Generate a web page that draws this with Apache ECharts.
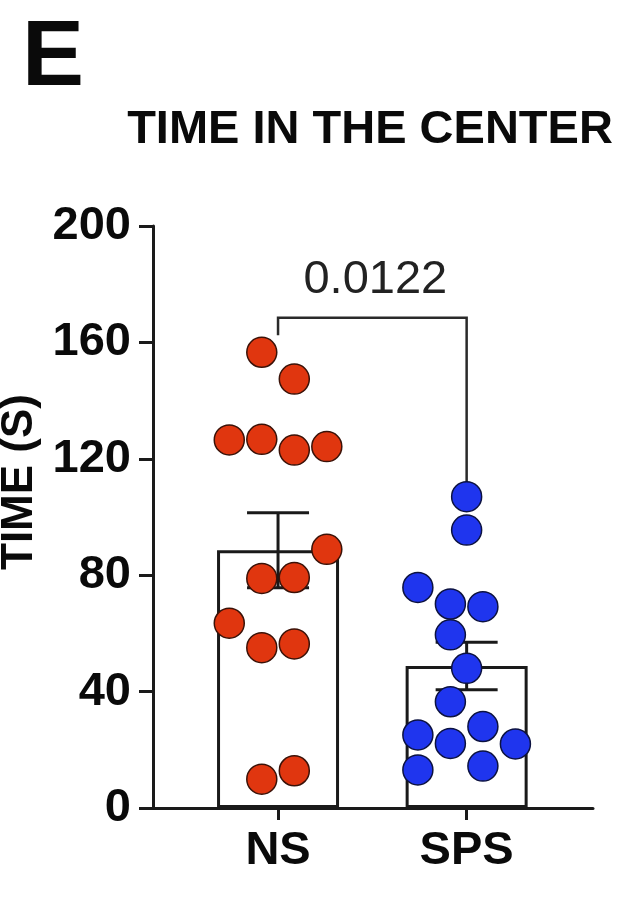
<!DOCTYPE html>
<html>
<head>
<meta charset="utf-8">
<script src="https://cdn.jsdelivr.net/npm/echarts@6/dist/echarts.min.js"></script>
<style>
html,body{margin:0;padding:0;background:#fff;}
#chart{width:625px;height:903px;}
</style>
</head>
<body>
<div id="chart"></div>
<script>
// ---- data ----
const categories = ['NS', 'SPS'];
const nsValues  = [156.6, 147.4, 126.5, 126.7, 123.0, 124.2, 88.9, 78.9, 79.2, 63.5, 55.1, 56.4, 9.9, 12.8];
const nsJitter  = [-0.5, 0.5, -1.5, -0.5, 0.5, 1.5, 1.5, -0.5, 0.5, -1.5, -0.5, 0.5, -0.5, 0.5];
const spsValues = [107.0, 95.5, 75.8, 70.1, 69.2, 59.5, 48.0, 36.5, 25.1, 28.0, 22.2, 22.0, 13.1, 14.4];
const spsJitter = [0, 0, -1.5, -0.5, 0.5, -0.5, 0, -0.5, -1.5, 0.5, -0.5, 1.5, -1.5, 0.5];
const means = [88.6, 48.8];
const sems  = [12.9, 8.2];
const pValue = '0.0122';
const bracketLevels = [162.5, 168.5, 111.5]; // left leg end, bracket top, right leg end
const yTicks = [0, 40, 80, 120, 160, 200];

// ---- chart ----
const JIT = 0.1724;
const FONT = '"Liberation Sans", Arial, sans-serif';
const chart = echarts.init(document.getElementById('chart'), null, {renderer: 'canvas'});

function pts(vals, jit, g) {
  return vals.map((v, i) => [g + jit[i] * JIT, v]);
}

const option = {
  backgroundColor: '#fff',
  animation: false,
  graphic: [
    {type: 'text', x: 53, y: 59, style: {text: 'E', font: 'bold 93px ' + FONT, fill: '#0a0a0a', textAlign: 'center', textVerticalAlign: 'middle'}},
    {type: 'text', x: 370, y: 130, style: {text: 'TIME IN THE CENTER', font: 'bold 47px ' + FONT, fill: '#0a0a0a', textAlign: 'center', textVerticalAlign: 'middle'}}
  ],
  grid: {left: 153, right: 32, top: 226, bottom: 95, containLabel: false, outerBoundsMode: 'none'},
  xAxis: {
    type: 'value', min: -0.663, max: 1.67,
    axisLine: {show: true, onZero: false, lineStyle: {color: '#1a1a1a', width: 3}},
    axisTick: {show: true, customValues: [0, 1], length: 12, lineStyle: {color: '#1a1a1a', width: 3}},
    axisLabel: {show: true, customValues: [0, 1], formatter: v => categories[Math.round(v)] || '',
      fontFamily: FONT, fontWeight: 'bold', fontSize: 47, color: '#0a0a0a', margin: 20},
    splitLine: {show: false}
  },
  yAxis: {
    type: 'value', min: 0, max: 200, interval: 40,
    name: 'TIME (S)', nameLocation: 'middle', nameRotate: 90, nameGap: 107,
    nameTextStyle: {fontFamily: FONT, fontWeight: 'bold', fontSize: 44, color: '#0a0a0a', padding: [0, 0, 0, 70]},
    axisLine: {show: true, onZero: false, lineStyle: {color: '#1a1a1a', width: 3}},
    axisTick: {show: true, length: 14, lineStyle: {color: '#1a1a1a', width: 3}},
    axisLabel: {fontFamily: FONT, fontWeight: 'bold', fontSize: 47, color: '#0a0a0a', margin: 22,
      formatter: v => yTicks.includes(v) ? String(v) : ''},
    splitLine: {show: false}
  },
  series: [
    {
      type: 'bar', barWidth: 122, z: 1,
      data: means.map((m, i) => [i, m]),
      itemStyle: {color: '#fff', borderColor: '#1a1a1a', borderWidth: 3}
    },
    {
      type: 'custom', z: 2,
      data: means.map((m, i) => [i, m, sems[i]]),
      renderItem: function (params, api) {
        const x = api.value(0), m = api.value(1), s = api.value(2);
        const top = api.coord([x, m + s]);
        const bot = api.coord([x, m - s]);
        const half = 31;
        const st = {stroke: '#1a1a1a', lineWidth: 3};
        return {type: 'group', children: [
          {type: 'line', shape: {x1: top[0], y1: top[1], x2: bot[0], y2: bot[1]}, style: st},
          {type: 'line', shape: {x1: top[0] - half, y1: top[1], x2: top[0] + half, y2: top[1]}, style: st},
          {type: 'line', shape: {x1: bot[0] - half, y1: bot[1], x2: bot[0] + half, y2: bot[1]}, style: st}
        ]};
      }
    },
    {
      type: 'custom', z: 2,
      data: [[0, 1, bracketLevels[0], bracketLevels[1], bracketLevels[2]]],
      renderItem: function (params, api) {
        const a = api.coord([api.value(0), api.value(2)]);
        const b = api.coord([api.value(0), api.value(3)]);
        const c = api.coord([api.value(1), api.value(3)]);
        const d = api.coord([api.value(1), api.value(4)]);
        return {type: 'group', children: [
          {type: 'polyline', shape: {points: [a, b, c, d]}, style: {stroke: '#2a2a2a', lineWidth: 2.5, fill: null}},
          {type: 'text', x: (b[0] + c[0]) / 2 + 3, y: b[1] - 38,
            style: {text: pValue, font: '47px ' + FONT, fill: '#222', textAlign: 'center', textVerticalAlign: 'middle'}}
        ]};
      }
    },
    {
      type: 'scatter', z: 3, symbolSize: 30,
      data: pts(nsValues, nsJitter, 0),
      itemStyle: {color: '#e0360f', borderColor: '#3a1208', borderWidth: 1.5, opacity: 1}
    },
    {
      type: 'scatter', z: 3, symbolSize: 30,
      data: pts(spsValues, spsJitter, 1),
      itemStyle: {color: '#1f35ee', borderColor: '#0c1240', borderWidth: 1.5, opacity: 1}
    }
  ]
};
chart.setOption(option);
</script>
</body>
</html>
